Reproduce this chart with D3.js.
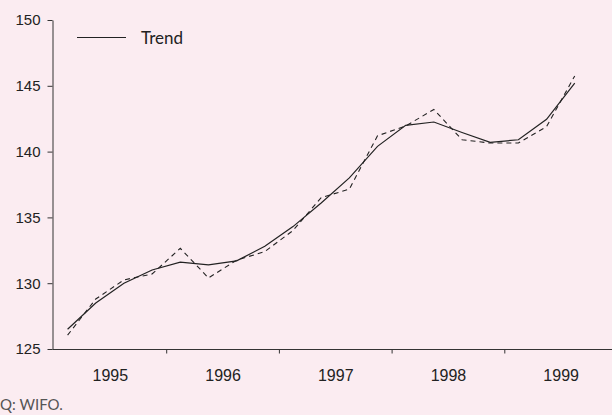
<!DOCTYPE html>
<html>
<head>
<meta charset="utf-8">
<script src="https://cdn.jsdelivr.net/npm/d3@7"></script>
<style>
  body { margin: 0; background: #fbecf1; }
  svg { display: block; font-family: Lato, "Open Sans", sans-serif; }
</style>
</head>
<body>
<div id="chart"></div>
<script>
// quarterly series, 1995 Q1 - 1999 Q3
const quarters = d3.range(19).map(i => 1995 + (i + 0.5) / 4);
const actual = [126.05, 128.8, 130.25, 130.7, 132.65, 130.4, 131.75, 132.4, 134.0, 136.5,
                137.15, 141.2, 141.95, 143.2, 140.9, 140.65, 140.65, 141.9, 145.75];
const trend = [126.5, 128.5, 130.0, 131.0, 131.6, 131.4, 131.7, 132.8, 134.3, 136.1,
               138.0, 140.4, 142.0, 142.25, 141.45, 140.7, 140.9, 142.45, 145.2];
const years = [1995, 1996, 1997, 1998, 1999];
const yTicks = [125, 130, 135, 140, 145, 150];

const width = 612, height = 415;

const svg = d3.select("#chart")
  .append("svg")
  .attr("width", width)
  .attr("height", height);

const x = d3.scaleLinear()
  .domain([1995, 2000])
  .range([53.5, 617]);

const y = d3.scaleLinear()
  .domain([125, 150])
  .range([349, 20]);

// y axis
const yAxis = svg.append("g")
  .attr("transform", "translate(52.5,0)")
  .call(d3.axisLeft(y).tickValues(yTicks).tickSize(5).tickSizeOuter(0).tickPadding(7));
yAxis.select(".domain").attr("stroke", "#333");
yAxis.selectAll(".tick line").attr("stroke", "#333");
yAxis.selectAll("text").attr("font-size", 15).attr("fill", "#222");

// x axis: tick marks at year boundaries
const xAxis = svg.append("g")
  .attr("transform", "translate(0,349.5)")
  .call(d3.axisBottom(x).tickValues([1996, 1997, 1998, 1999]).tickSize(4).tickSizeOuter(0).tickFormat(""));
xAxis.select(".domain").attr("stroke", "#333").attr("d", "M52.5,0H612");
xAxis.selectAll(".tick line").attr("stroke", "#333");

// year labels centred in each year
const xLabels = svg.append("g")
  .attr("transform", "translate(0,349.5)")
  .call(d3.axisBottom(x).tickValues(years.map(v => v + 0.5)).tickSize(0).tickPadding(20)
    .tickFormat(v => Math.floor(v)));
xLabels.select(".domain").remove();
xLabels.selectAll("text").attr("font-size", 16).attr("fill", "#222");

const line = d3.line()
  .x((d, i) => x(quarters[i]))
  .y(d => y(d));

svg.append("path")
  .datum(actual)
  .attr("fill", "none")
  .attr("stroke", "#222")
  .attr("stroke-width", 1.1)
  .attr("stroke-dasharray", "5,4")
  .attr("d", line);

svg.append("path")
  .datum(trend)
  .attr("fill", "none")
  .attr("stroke", "#222")
  .attr("stroke-width", 1.2)
  .attr("d", line);

// legend
svg.append("line")
  .attr("x1", 77).attr("x2", 126)
  .attr("y1", 37.5).attr("y2", 37.5)
  .attr("stroke", "#222").attr("stroke-width", 1.2);
svg.append("text")
  .attr("x", 141).attr("y", 44)
  .attr("font-size", 17).attr("fill", "#222")
  .text("Trend");

// source
svg.append("text")
  .attr("x", 0).attr("y", 410)
  .attr("font-size", 15).attr("fill", "#555")
  .text("Q: WIFO.");
</script>
</body>
</html>
